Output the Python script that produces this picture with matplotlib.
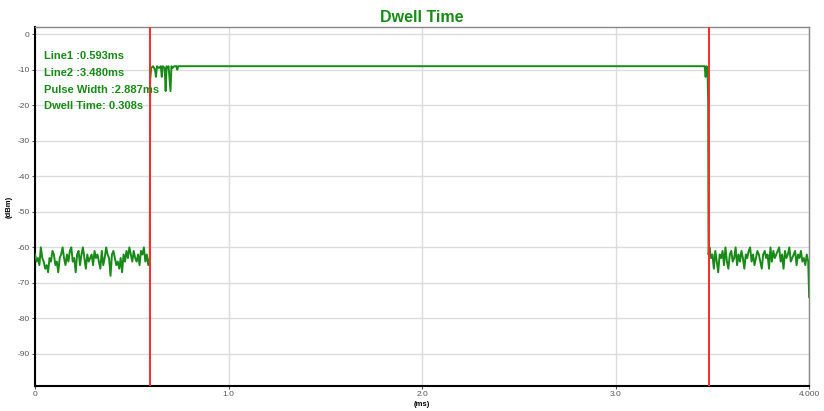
import matplotlib.pyplot as plt
import numpy as np

plt.rcParams['font.family'] = ['Liberation Sans', 'DejaVu Sans']

# markers (ms)
line1 = 0.593
line2 = 3.480

# noise floor before the pulse (dBm), 0 .. 0.5925 ms
left_t = np.arange(0, 0.5926, 0.0075)
left_noise = [-62, -64, -63, -65, -60, -63, -64, -66, -65, -67,
              -63, -64, -61, -62, -65, -64, -67, -63, -62, -60,
              -63, -65, -62, -64, -61, -60, -64, -63, -67, -62,
              -61, -65, -62, -60, -63, -66, -62, -64, -63, -62,
              -65, -61, -63, -62, -64, -66, -61, -65, -63, -60,
              -62, -63, -68, -62, -61, -63, -65, -64, -66, -63,
              -67, -62, -64, -61, -63, -60, -62, -64, -61, -63,
              -64, -62, -65, -61, -62, -60, -64, -62, -65, -63]

# rising edge + ripple at the start of the pulse
rise_t = [0.593, 0.595, 0.600, 0.610, 0.620, 0.625, 0.630, 0.640, 0.650, 0.655,
          0.660, 0.670, 0.675, 0.680, 0.685, 0.690, 0.700, 0.705, 0.710, 0.720,
          0.730, 0.735, 0.740, 0.750]
rise_v = [-62, -13, -9.5, -9, -10, -12, -9, -9.5, -9, -12,
          -9, -9.5, -16, -9, -9.5, -9, -16, -9, -9.5, -9,
          -9, -10, -9, -9]

# flat top and falling edge
fall_t = [3.450, 3.460, 3.465, 3.470, 3.475, 3.478, 3.480]
fall_v = [-9, -9, -12, -9, -10, -19, -62]

# noise floor after the pulse, 3.485 .. 3.995 ms
right_t = np.arange(3.485, 3.996, 0.0075)
right_noise = [-60, -63, -62, -66, -61, -64, -67, -62, -63, -61,
               -65, -60, -64, -66, -62, -61, -64, -63, -60, -65,
               -62, -64, -61, -63, -66, -62, -63, -61, -60, -64,
               -62, -65, -63, -61, -62, -64, -66, -62, -61, -63,
               -62, -66, -60, -64, -61, -63, -62, -61, -60, -64,
               -62, -66, -61, -63, -62, -60, -64, -63, -62, -61,
               -65, -62, -63, -61, -64, -63, -65, -62, -64]
end_t = [4.0]
end_v = [-74]

n = min(len(left_t), len(left_noise))
m = min(len(right_t), len(right_noise))
t = np.concatenate([left_t[:n], rise_t, fall_t, right_t[:m], end_t])
v = np.concatenate([left_noise[:n], rise_v, fall_v, right_noise[:m], end_v])

green = '#178a17'

fig = plt.figure(figsize=(8.24, 4.11), dpi=100)
ax = fig.add_axes([0.0425, 0.061, 0.9395, 0.873])

ax.plot(t, v, color=green, lw=1.4, zorder=3)
ax.axvline(line1, color='#ff2a2a', lw=1.4, zorder=4)
ax.axvline(line2, color='#ff2a2a', lw=1.4, zorder=4)

ax.set_xlim(0, 4)
ax.set_ylim(-99, 2)
ax.set_xticks([0, 1, 2, 3, 4])
ax.set_xticklabels(['0', '1.0', '2.0', '3.0', '4.000'])
ax.set_yticks(np.arange(0, -100, -10))
ax.set_yticklabels([str(i) for i in range(0, -100, -10)])
ax.tick_params(labelsize=6, colors='#555555', length=2, pad=2)
ax.grid(True, color='#dcdcdc', lw=1)
ax.set_axisbelow(True)

for s in ['left', 'bottom']:
    ax.spines[s].set_linewidth(1.5)
    ax.spines[s].set_color('black')
for s in ['top', 'right']:
    ax.spines[s].set_linewidth(1)
    ax.spines[s].set_color('#888888')

ax.set_xlabel('(ms)', fontsize=5.5, fontweight='bold', labelpad=2)
ax.set_ylabel('(dBm)', fontsize=5.5, fontweight='bold', labelpad=3)
ax.set_title('Dwell Time', color=green, fontsize=11.5, fontweight='bold', pad=4)

info = ['Line1 :0.593ms', 'Line2 :3.480ms', 'Pulse Width :2.887ms', 'Dwell Time: 0.308s']
for i, s in enumerate(info):
    ax.text(0.0115, 0.92 - i * 0.047, s, transform=ax.transAxes, color=green,
            fontsize=8, fontweight='bold', va='center', zorder=5)

fig.savefig('out.png', dpi=100)
